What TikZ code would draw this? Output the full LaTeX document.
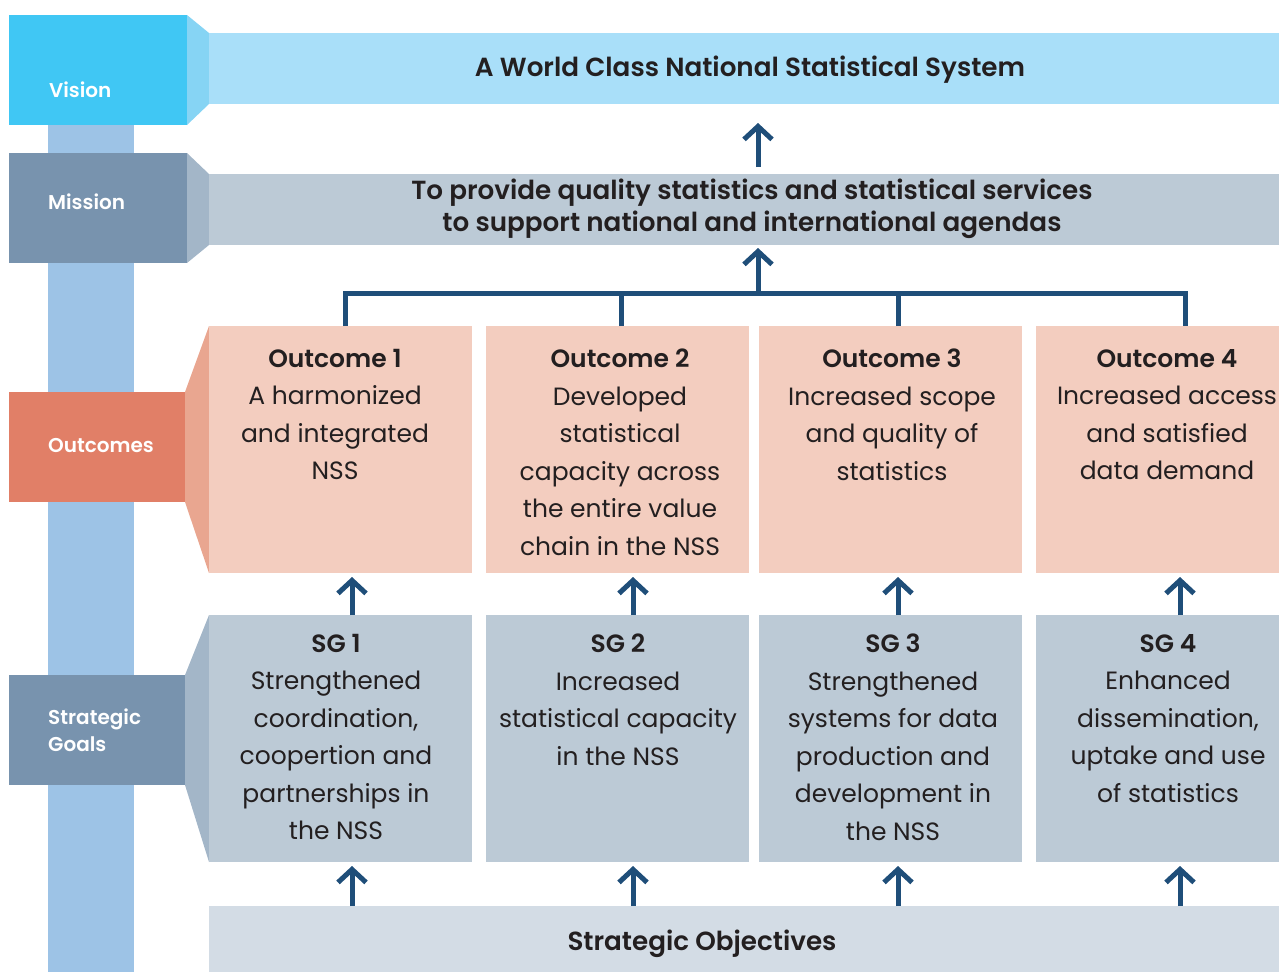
\documentclass[tikz,border=0pt]{standalone}
\usepackage{fontspec}
\setmainfont{Poppins}[BoldFont={Poppins SemiBold}]
\usetikzlibrary{arrows.meta}
\definecolor{visbox}{HTML}{40C7F4}
\definecolor{vistrap}{HTML}{86D4F4}
\definecolor{visbar}{HTML}{A9DFF9}
\definecolor{spine}{HTML}{9DC3E6}
\definecolor{misbox}{HTML}{7893AE}
\definecolor{mistrap}{HTML}{A3B6C8}
\definecolor{misbar}{HTML}{BCCAD6}
\definecolor{outbox}{HTML}{E17F67}
\definecolor{outtrap}{HTML}{E9A690}
\definecolor{outfill}{HTML}{F3CDBF}
\definecolor{sobar}{HTML}{D3DCE5}
\definecolor{arrowblue}{HTML}{1F4E79}
\definecolor{txt}{HTML}{231F20}
\begin{document}
\begin{tikzpicture}[x=1pt,y=-1pt,
  lbl/.style={text=white,font=\fontsize{20}{27}\selectfont\bfseries,align=left,anchor=west,inner sep=0},
  boxtxt/.style={text=txt,font=\fontsize{25}{37.5}\selectfont,align=center,anchor=north,inner sep=0},
  bartxt/.style={text=txt,font=\fontsize{26.2}{32}\selectfont\bfseries,align=center,inner sep=0},
  conn/.style={draw=arrowblue,line width=5pt},
  arr/.style={draw=arrowblue,line width=5pt,-{Straight Barb[length=13pt,width=28pt]}},
  panel/.style={draw=none,inner sep=0,outer sep=0}]
\useasboundingbox (0,0) rectangle (1279,972);
% spine
\fill[spine] (48,120) rectangle (134,972);
% vision
\fill[vistrap] (187,15) -- (209,33) -- (209,104) -- (187,125) -- cycle;
\node[panel,fill=visbox,minimum width=178pt,minimum height=110pt,anchor=north west] (visl) at (9,15) {};
\node[panel,fill=visbar,minimum width=1070pt,minimum height=71pt,anchor=north west] (vision) at (209,33) {};
\node[lbl] (vislt) at (49,90) {Vision};
\node[bartxt] (vist) at (750,70) {A World Class National Statistical System};
% mission
\fill[mistrap] (187,153) -- (209,174) -- (209,245) -- (187,263) -- cycle;
\node[panel,fill=misbox,minimum width=178pt,minimum height=110pt,anchor=north west] (misl) at (9,153) {};
\node[panel,fill=misbar,minimum width=1070pt,minimum height=71pt,anchor=north west] (mission) at (209,174) {};
\node[lbl] (mislt) at (48,202) {Mission};
\node[bartxt] (mist) at (752,209) {To provide quality statistics and statistical services\\to support national and international agendas};
% outcomes
\fill[outtrap] (185,392) -- (209,326) -- (209,573) -- (185,502) -- cycle;
\node[panel,fill=outbox,minimum width=176pt,minimum height=110pt,anchor=north west] (outl) at (9,392) {};
\node[lbl] (outlt) at (48,446) {Outcomes};
\node[panel,fill=outfill,minimum width=263pt,minimum height=247pt,anchor=north west] (o1) at (209,326) {};
\node[panel,fill=outfill,minimum width=263pt,minimum height=247pt,anchor=north west] (o2) at (486,326) {};
\node[panel,fill=outfill,minimum width=263pt,minimum height=247pt,anchor=north west] (o3) at (759,326) {};
\node[panel,fill=outfill,minimum width=243pt,minimum height=247pt,anchor=north west] (o4) at (1036,326) {};
\node[boxtxt] (o1t) at (335,349) {\textbf{Outcome 1}\\A harmonized\\and integrated\\NSS};
\node[boxtxt] (o2t) at (620,349) {\textbf{Outcome 2}\\Developed\\statistical\\capacity across\\the entire value\\chain in the NSS};
\node[boxtxt] (o3t) at (892,349) {\textbf{Outcome 3}\\Increased scope\\and quality of\\statistics};
\node[boxtxt] (o4t) at (1167,349) {\textbf{Outcome 4}\\Increased access\\and satisfied\\data demand};
% strategic goals
\fill[mistrap] (185,675) -- (209,615) -- (209,862) -- (185,785) -- cycle;
\node[panel,fill=misbox,minimum width=176pt,minimum height=110pt,anchor=north west] (sgl) at (9,675) {};
\node[lbl] (sglt) at (48,730) {Strategic\\Goals};
\node[panel,fill=misbar,minimum width=263pt,minimum height=247pt,anchor=north west] (s1) at (209,615) {};
\node[panel,fill=misbar,minimum width=263pt,minimum height=247pt,anchor=north west] (s2) at (486,615) {};
\node[panel,fill=misbar,minimum width=263pt,minimum height=247pt,anchor=north west] (s3) at (759,615) {};
\node[panel,fill=misbar,minimum width=243pt,minimum height=247pt,anchor=north west] (s4) at (1036,615) {};
\node[boxtxt] (s1t) at (336,634) {\textbf{SG 1}\\Strengthened\\coordination,\\coopertion and\\partnerships in\\the NSS};
\node[boxtxt] (s2t) at (618,634) {\textbf{SG 2}\\Increased\\statistical capacity\\in the NSS};
\node[boxtxt] (s3t) at (893,634) {\textbf{SG 3}\\Strengthened\\systems for data\\production and\\development in\\the NSS};
\node[boxtxt] (s4t) at (1168,634) {\textbf{SG 4}\\Enhanced\\dissemination,\\uptake and use\\of statistics};
% strategic objectives
\node[panel,fill=sobar,minimum width=1070pt,minimum height=66pt,anchor=north west] (so) at (209,906) {};
\node[bartxt] (sot) at (702,944) {Strategic Objectives};
% connector x positions
\coordinate (ax) at (758,0);
\coordinate (b1) at (345,0);
\coordinate (b2) at (621,0);
\coordinate (b3) at (898,0);
\coordinate (b4) at (1185,0);
\coordinate (a1) at (352,0);
\coordinate (a2) at (633,0);
\coordinate (a3) at (898,0);
\coordinate (a4) at (1180,0);
\coordinate (br) at (758,293);
% arrows
\draw[arr,shorten <=7pt,shorten >=19pt] (ax |- mission.north) -- (ax |- vision.south);
\draw[conn,line join=miter] (b1 |- o1.north) -- (b1 |- br) -- (b4 |- br) -- (b4 |- o4.north);
\draw[conn] (b2 |- o2.north) -- (b2 |- br);
\draw[conn] (b3 |- o3.north) -- (b3 |- br);
\draw[arr,shorten >=3pt] (br) -- (ax |- mission.south);
\foreach \i in {1,2,3,4}{
  \draw[arr,shorten >=4pt] (a\i |- s\i.north) -- (a\i |- o\i.south);
  \draw[arr,shorten >=4pt] (a\i |- so.north) -- (a\i |- s\i.south);
}
\end{tikzpicture}
\end{document}
